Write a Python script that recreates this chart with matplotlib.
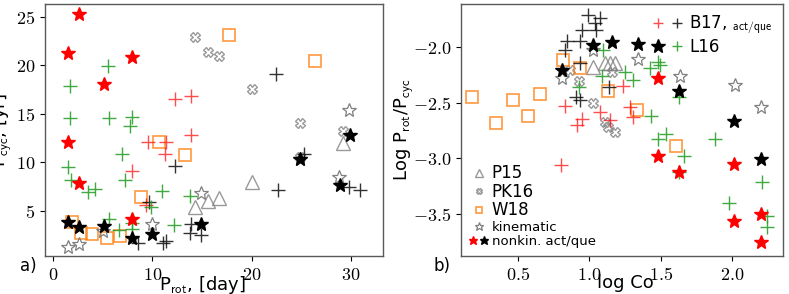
import matplotlib
matplotlib.use('Agg')
import matplotlib.pyplot as plt
from matplotlib.ticker import FuncFormatter
from matplotlib.legend_handler import HandlerTuple

plt.rcParams['mathtext.fontset'] = 'cm'

# ---- panel a: Prot [day] vs Pcyc [yr]
p15_prot = [14.3, 15.6, 16.7, 20.0, 29.2]
p15_pcyc = [5.45, 6.0, 6.3, 8.0, 12.0]
pk16_prot = [14.3, 15.6, 16.7, 20.0, 24.9, 29.2, 24.9]
pk16_pcyc = [22.9, 21.4, 20.9, 17.6, 14.0, 13.2, 10.6]
w18_prot = [17.7, 26.4, 10.7, 13.3, 8.9, 1.9, 2.8, 3.9, 5.4, 6.7]
w18_pcyc = [23.1, 20.4, 12.1, 10.8, 6.45, 3.9, 2.75, 2.6, 2.25, 2.4]
kin_prot = [29.8, 28.8, 14.9, 10.0, 1.5, 2.6, 5.0, 24.9]
kin_pcyc = [15.4, 8.5, 6.8, 3.7, 1.3, 1.6, 2.9, 10.3]
nk_act_prot = [2.6, 1.5, 8.0, 5.1, 1.5, 2.6, 8.0]
nk_act_pcyc = [25.3, 21.3, 20.8, 18.1, 12.1, 7.85, 4.15]
nk_que_prot = [29.9, 28.9, 24.9, 14.9, 10.0, 8.0, 5.1, 2.6, 1.5]
nk_que_pcyc = [12.8, 7.7, 10.3, 3.7, 2.65, 2.2, 3.45, 3.3, 3.9]
b17_act_prot = [12.3, 13.9, 13.9, 9.6, 11.4, 11.3, 8.0, 9.4]
b17_act_pcyc = [16.5, 16.85, 12.8, 12.1, 12.1, 10.85, 9.1, 5.6]
b17_que_prot = [22.4, 22.6, 25.3, 29.8, 30.9, 12.3, 9.7, 13.9, 13.8, 14.9, 8.6, 11.1, 11.4]
b17_que_pcyc = [19.1, 7.2, 10.9, 7.45, 7.2, 9.6, 5.9, 3.7, 2.7, 2.5, 1.7, 1.7, 1.9]
l16_prot = [5.5, 1.7, 1.7, 5.6, 8.0, 7.7, 6.9, 1.5, 1.8, 7.2, 3.5, 4.2, 11.0, 9.9,
            13.8, 5.6, 8.0, 8.0, 12.2, 6.6]
l16_pcyc = [19.95, 17.9, 14.55, 14.6, 14.7, 13.7, 10.9, 9.5, 8.2, 8.2, 6.9, 7.3, 7.0, 5.4,
            6.5, 4.2, 3.75, 3.1, 3.6, 3.0]

# ---- panel b: log Co vs log Prot/Pcyc
p15_co = [1.028, 1.11, 1.145, 1.18]
p15_r = [-2.177, -2.147, -2.147, -2.147]
pk16_co = [0.865, 0.93, 1.028, 1.11, 1.133, 1.18, 1.157]
pk16_r = [-2.207, -2.31, -2.506, -2.671, -2.716, -2.767, -2.222]
w18_co = [0.175, 0.344, 0.463, 0.568, 0.654, 0.818, 0.935, 1.129, 1.332, 1.608]
w18_r = [-2.452, -2.68, -2.476, -2.62, -2.425, -2.117, -2.19, -2.40, -2.57, -2.89]
kin_co = [0.806, 1.028, 1.339, 1.636, 2.022, 2.202]
kin_r = [-2.28, -2.027, -2.11, -2.26, -2.341, -2.536]
nk_act_co = [1.484, 1.484, 1.631, 2.017, 2.017, 2.202, 2.202]
nk_act_r = [-2.28, -2.98, -3.12, -3.054, -3.56, -3.50, -3.749]
nk_que_co = [0.806, 1.028, 1.157, 1.339, 1.484, 1.631, 2.017, 2.202]
nk_que_r = [-2.207, -1.982, -1.952, -1.976, -1.988, -2.40, -2.662, -3.009]
b17_act_co = [0.80, 0.83, 0.912, 0.947, 1.075, 1.145, 1.238, 1.285, 1.304]
b17_act_r = [-3.06, -2.53, -2.70, -2.65, -2.58, -2.656, -2.35, -2.536, -2.626]
b17_que_co = [0.993, 1.075, 1.04, 1.05, 0.947, 0.935, 0.84, 0.83, 0.905, 0.935, 1.14, 0.935]
b17_que_r = [-1.712, -1.742, -1.787, -1.847, -1.847, -1.95, -1.95, -2.03, -2.447, -2.48,
             -2.357, -2.147]
l16_co = [1.098, 1.087, 1.25, 1.309, 0.928, 1.426, 1.484, 1.496, 1.631, 1.43, 1.484, 1.538,
          1.881, 1.666, 1.631, 1.982, 2.213, 2.248, 2.244]
l16_r = [-2.027, -2.26, -2.222, -2.30, -2.362, -2.19, -2.132, -2.162, -2.446, -2.62, -2.829,
         -2.785, -2.829, -2.979, -3.12, -3.404, -3.216, -3.518, -3.62]

GRAY = 'gray'
ORANGE = '#ff7f0e'
GREEN = '#2ca02c'

sty = {
    'p15': dict(ls='none', marker='^', ms=10, mfc='none', mec=GRAY, mew=1.0, alpha=0.8),
    'pk16': dict(ls='none', marker='X', ms=7, mfc='none', mec=GRAY, mew=1.0, alpha=0.8),
    'w18': dict(ls='none', marker='s', ms=8, mfc='none', mec=ORANGE, mew=1.2, alpha=0.8),
    'kin': dict(ls='none', marker='*', ms=10.5, mfc='none', mec=GRAY, mew=0.9),
    'nka': dict(ls='none', marker='*', ms=10.5, color='red'),
    'nkq': dict(ls='none', marker='*', ms=10.5, color='black'),
    'b17a': dict(ls='none', marker='+', ms=10, mew=1.0, color='red', alpha=0.7),
    'b17q': dict(ls='none', marker='+', ms=10, mew=1.0, color='black', alpha=0.8),
    'l16': dict(ls='none', marker='+', ms=10, mew=1.0, color=GREEN, alpha=0.9),
}

fig = plt.figure(figsize=(7.89, 2.94), dpi=100)
ax1 = fig.add_axes([45/789, 38/294, 338/789, 252/294])
ax2 = fig.add_axes([461/789, 38/294, 322/789, 252/294])


def draw(ax, d):
    h = {}
    for key, (x, y) in d.items():
        h[key], = ax.plot(x, y, **sty[key])
    return h


draw(ax1, {
    'p15': (p15_prot, p15_pcyc), 'pk16': (pk16_prot, pk16_pcyc), 'w18': (w18_prot, w18_pcyc),
    'kin': (kin_prot, kin_pcyc), 'b17a': (b17_act_prot, b17_act_pcyc),
    'b17q': (b17_que_prot, b17_que_pcyc), 'l16': (l16_prot, l16_pcyc),
    'nka': (nk_act_prot, nk_act_pcyc), 'nkq': (nk_que_prot, nk_que_pcyc),
})
h = draw(ax2, {
    'p15': (p15_co, p15_r), 'pk16': (pk16_co, pk16_r), 'w18': (w18_co, w18_r),
    'kin': (kin_co, kin_r), 'b17a': (b17_act_co, b17_act_r),
    'b17q': (b17_que_co, b17_que_r), 'l16': (l16_co, l16_r),
    'nka': (nk_act_co, nk_act_r), 'nkq': (nk_que_co, nk_que_r),
})

ax1.set_xlim(-0.8, 33.2)
ax1.set_ylim(0.36, 26.3)
ax1.set_xticks([0, 10, 20, 30])
ax1.set_yticks([5, 10, 15, 20, 25])
ax1.xaxis.set_major_formatter(FuncFormatter(lambda v, p: f'${v:g}$'))
ax1.yaxis.set_major_formatter(FuncFormatter(lambda v, p: f'${v:g}$'))
ax1.set_xlabel(r'P$_{\mathsf{rot}}$, [day]', fontsize=13)
ax1.set_ylabel(r'P$_{\mathsf{cyc}}$, [yr]', fontsize=13)
ax1.xaxis.set_label_coords(0.465, -0.07)
ax1.yaxis.set_label_coords(-0.092, 0.5)

ax2.set_xlim(0.1, 2.358)
ax2.set_ylim(-3.878, -1.614)
ax2.set_xticks([0.5, 1.0, 1.5, 2.0])
ax2.set_yticks([-2.0, -2.5, -3.0, -3.5])
ax2.xaxis.set_major_formatter(FuncFormatter(lambda v, p: f'${v:.1f}$'))
ax2.yaxis.set_major_formatter(FuncFormatter(lambda v, p: f'${v:.1f}$'))
ax2.set_xlabel('log Co', fontsize=13)
ax2.set_ylabel(r'Log P$_{\mathsf{rot}}$/P$_{\mathsf{cyc}}$', fontsize=13)
ax2.xaxis.set_label_coords(0.51, -0.07)
ax2.yaxis.set_label_coords(-0.14, 0.5)

for ax in (ax1, ax2):
    ax.tick_params(labelsize=13)
    for s in ax.spines.values():
        s.set_color('0.35')
        s.set_linewidth(1.0)

# legends
blank, = ax2.plot([], [], ls='none')
leg1 = ax2.legend([h['p15'], h['pk16'], h['w18'], h['kin'], (h['nka'], h['nkq'])],
                  ['P15', 'PK16', 'W18', 'kinematic', 'nonkin. act/que'],
                  loc='lower left', frameon=False, markerscale=0.6, handlelength=1.3,
                  handletextpad=0.2, labelspacing=0.05, borderaxespad=0.1, fontsize=11,
                  handler_map={tuple: HandlerTuple(ndivide=None, pad=0.2)})
for t, fs in zip(leg1.get_texts(), [12, 12, 12, 9.5, 9.5]):
    t.set_fontsize(fs)
ax2.add_artist(leg1)
ax2.legend([(h['b17a'], h['b17q']), (blank, h['l16'])],
           [r'B17, ${}_{\mathsf{act/que}}$', 'L16'],
           loc='upper right', frameon=False, markerscale=0.7, handlelength=2.0,
           handletextpad=0.3, labelspacing=0.1, borderaxespad=0.2, fontsize=12,
           handler_map={tuple: HandlerTuple(ndivide=None, pad=0.3)})

fig.text(28/789, 1 - 266/294, 'a)', fontsize=12, ha='center', va='center')
fig.text(442/789, 1 - 266/294, 'b)', fontsize=12, ha='center', va='center')

fig.savefig('out.png', dpi=100)
